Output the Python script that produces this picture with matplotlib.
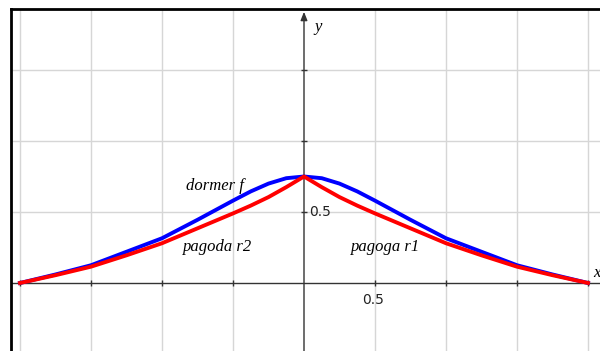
import numpy as np
import matplotlib
matplotlib.use("Agg")
import matplotlib.pyplot as plt

# Sample abscissae (symmetric about the y-axis)
x_vals = [-2.0, -1.75, -1.5, -1.25, -1.0, -0.75, -0.5, -0.375, -0.25, -0.125,
          0.0, 0.125, 0.25, 0.375, 0.5, 0.75, 1.0, 1.25, 1.5, 1.75, 2.0]

# dormer f (smooth top)
dormer_f = [0.0, 0.06, 0.125, 0.22, 0.315, 0.445, 0.58, 0.645, 0.70, 0.738,
            0.75, 0.738, 0.70, 0.645, 0.58, 0.445, 0.315, 0.22, 0.125, 0.06, 0.0]

# pagoda r2 (left branch) and pagoga r1 (right branch), sharp top
pagoda = [0.0, 0.055, 0.115, 0.195, 0.28, 0.385, 0.49, 0.545, 0.605, 0.675,
          0.75, 0.675, 0.605, 0.545, 0.49, 0.385, 0.28, 0.195, 0.115, 0.055, 0.0]

grid_x = [-2.0, -1.5, -1.0, -0.5, 0.5, 1.0, 1.5, 2.0]
grid_y = [0.5, 1.0, 1.5]
tick_label = "0.5"

W, H = 600, 351
fig = plt.figure(figsize=(W / 100, H / 100), dpi=100)

# axes frame: left edge at px 11, top edge at px 9, running off right/bottom
left_px, top_px = 11, 9
ax = fig.add_axes([left_px / W, 0, 1 - left_px / W, 1 - top_px / H])
px_per_unit = 142.0
x0_px, y0_px = 304.0, 283.0
ax.set_xlim((left_px - x0_px) / px_per_unit, (W - x0_px) / px_per_unit)
ax.set_ylim((y0_px - H) / px_per_unit, (y0_px - top_px) / px_per_unit)

for s in ("right", "bottom"):
    ax.spines[s].set_visible(False)
for s in ("left", "top"):
    ax.spines[s].set_linewidth(2.0)
    ax.spines[s].set_color("black")
ax.set_xticks([])
ax.set_yticks([])

# light grid
for gx in grid_x:
    ax.axvline(gx, color="#d6d6d6", lw=1.0, zorder=0)
for gy in grid_y:
    ax.axhline(gy, color="#d6d6d6", lw=1.0, zorder=0)

# coordinate axes with arrows
axis_col = "#333333"
ax.annotate("", xy=(0, 1.91), xytext=(0, ax.get_ylim()[0]),
            arrowprops=dict(arrowstyle="-|>,head_length=0.5,head_width=0.2",
                            color=axis_col, lw=1.0, shrinkA=0, shrinkB=0), zorder=2)
ax.plot([ax.get_xlim()[0], ax.get_xlim()[1]], [0, 0], color=axis_col, lw=1.0, zorder=2)

# small tick marks on axes
ax.plot(grid_x, [0] * len(grid_x), ls="none", marker="|", ms=5, mew=1.0,
        color=axis_col, zorder=2)
ax.plot([0] * len(grid_y), grid_y, ls="none", marker="_", ms=5, mew=1.0,
        color=axis_col, zorder=2)

# curves
ax.plot(x_vals, dormer_f, color="#0000ff", lw=2.8, zorder=3,
        solid_joinstyle="round")
ax.plot(x_vals, pagoda, color="#ff0000", lw=2.8, zorder=4,
        solid_joinstyle="round")

# tick labels
ax.text(0.486, -0.12, tick_label, ha="center", va="center", fontsize=10,
        family="DejaVu Sans", color="#222222")
ax.text(0.033, 0.5, tick_label, ha="left", va="center", fontsize=10,
        family="DejaVu Sans", color="#222222")

# axis names
serif = ["Liberation Serif", "DejaVu Serif"]
ax.text(0.1, 1.80, "y", ha="center", va="center", fontsize=12,
        style="italic", family=serif)
ax.text(2.06, 0.07, "x", ha="center", va="center", fontsize=12,
        style="italic", family=serif)

# curve labels
ax.text(-0.627, 0.683, "dormer f", ha="center", va="center", fontsize=12,
        style="italic", family=serif)
ax.text(-0.606, 0.254, "pagoda r2", ha="center", va="center", fontsize=12,
        style="italic", family=serif)
ax.text(0.577, 0.254, "pagoga r1", ha="center", va="center", fontsize=12,
        style="italic", family=serif)

fig.savefig("out.png", dpi=100)
